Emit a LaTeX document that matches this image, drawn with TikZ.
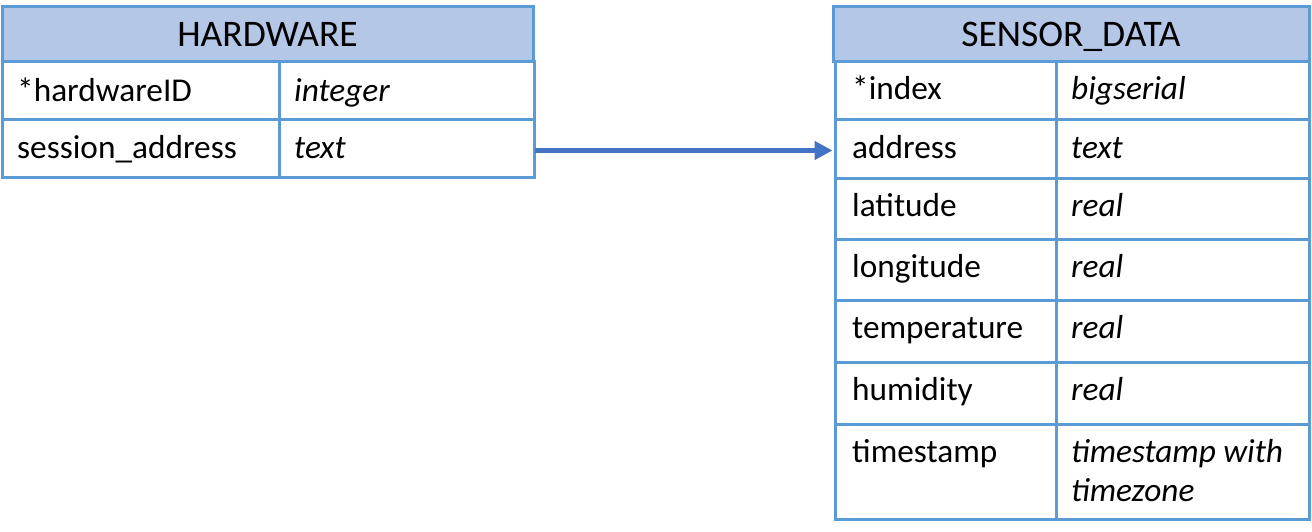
\documentclass[tikz,border=0pt]{standalone}
\usepackage{fontspec}
\setmainfont{Carlito}
\usetikzlibrary{arrows.meta}
\definecolor{hdrfill}{HTML}{B4C7E7}
\definecolor{bordc}{HTML}{5B9BD5}
\definecolor{arrowc}{HTML}{4472C4}
\begin{document}
\begin{tikzpicture}[x=1pt,y=-1pt,
  cell/.style={draw=bordc, line width=3pt, rectangle, inner sep=0pt, outer sep=0pt, anchor=north west},
  hdr/.style={cell, fill=hdrfill},
  hdrtext/.style={font=\fontsize{37.5}{45}\selectfont, anchor=base, inner sep=0pt},
  field/.style={font=\fontsize{33.3}{39}\selectfont, anchor=base west, inner sep=0pt},
  ftype/.style={font=\fontsize{33.3}{39}\selectfont\itshape, anchor=base west, inner sep=0pt},
  link/.style={draw=arrowc, line width=5.5pt, -{Triangle[length=18pt,width=18pt]}}
]
\useasboundingbox (0,0) rectangle (1312,532);

% ---------- HARDWARE ----------
\node[cell, minimum width=277pt, minimum height=58pt] (h1f) at (2,62) {};
\node[cell, minimum width=255pt, minimum height=58pt] (h1t) at (279,62) {};
\node[cell, minimum width=277pt, minimum height=57pt] (h2f) at (2,120) {};
\node[cell, minimum width=255pt, minimum height=57pt] (h2t) at (279,120) {};
\node[hdr, minimum width=531pt, minimum height=55pt] (hh) at (2,7) {};
\node[hdrtext] (hhl) at (267.5,47) {HARDWARE};
\node[field] (h1fl) at (17,102) {*hardwareID};
\node[ftype] (h1tl) at (294,102) {integer};
\node[field] (h2fl) at (17,159) {session\_address};
\node[ftype] (h2tl) at (294,159) {text};

% ---------- SENSOR_DATA ----------
\node[cell, minimum width=221pt, minimum height=58pt] (s1f) at (835,62) {};
\node[cell, minimum width=253pt, minimum height=58pt] (s1t) at (1056,62) {};
\node[cell, minimum width=221pt, minimum height=58pt] (s2f) at (835,120) {};
\node[cell, minimum width=253pt, minimum height=58pt] (s2t) at (1056,120) {};
\node[cell, minimum width=221pt, minimum height=61pt] (s3f) at (835,178) {};
\node[cell, minimum width=253pt, minimum height=61pt] (s3t) at (1056,178) {};
\node[cell, minimum width=221pt, minimum height=61pt] (s4f) at (835,239) {};
\node[cell, minimum width=253pt, minimum height=61pt] (s4t) at (1056,239) {};
\node[cell, minimum width=221pt, minimum height=62pt] (s5f) at (835,300) {};
\node[cell, minimum width=253pt, minimum height=62pt] (s5t) at (1056,300) {};
\node[cell, minimum width=221pt, minimum height=62pt] (s6f) at (835,362) {};
\node[cell, minimum width=253pt, minimum height=62pt] (s6t) at (1056,362) {};
\node[cell, minimum width=221pt, minimum height=95pt] (s7f) at (835,424) {};
\node[cell, minimum width=253pt, minimum height=95pt] (s7t) at (1056,424) {};
\node[hdr, minimum width=476pt, minimum height=55pt] (sh) at (833,7) {};
\node[hdrtext] (shl) at (1071,47) {SENSOR\_DATA};

\node[field] (s1fl) at (852,100) {*index};
\node[ftype] (s1tl) at (1071,100) {bigserial};
\node[field] (s2fl) at (852,158) {address};
\node[ftype] (s2tl) at (1071,158) {text};
\node[field] (s3fl) at (852,216) {latitude};
\node[ftype] (s3tl) at (1071,216) {real};
\node[field] (s4fl) at (852,277) {longitude};
\node[ftype] (s4tl) at (1071,277) {real};
\node[field] (s5fl) at (852,338) {temperature};
\node[ftype] (s5tl) at (1071,338) {real};
\node[field] (s6fl) at (852,400) {humidity};
\node[ftype] (s6tl) at (1071,400) {real};
\node[field] (s7fl) at (852,462) {timestamp};
\node[ftype] (s7tl) at (1071,462) {\parbox[t]{230pt}{timestamp with\\timezone}};

% ---------- connector ----------
\draw[link, shorten >=2.5pt, shorten <=1pt] ([yshift=-2pt]h2t.east) -- ([yshift=-2pt]h2t.east -| s2f.west);
\end{tikzpicture}
\end{document}
